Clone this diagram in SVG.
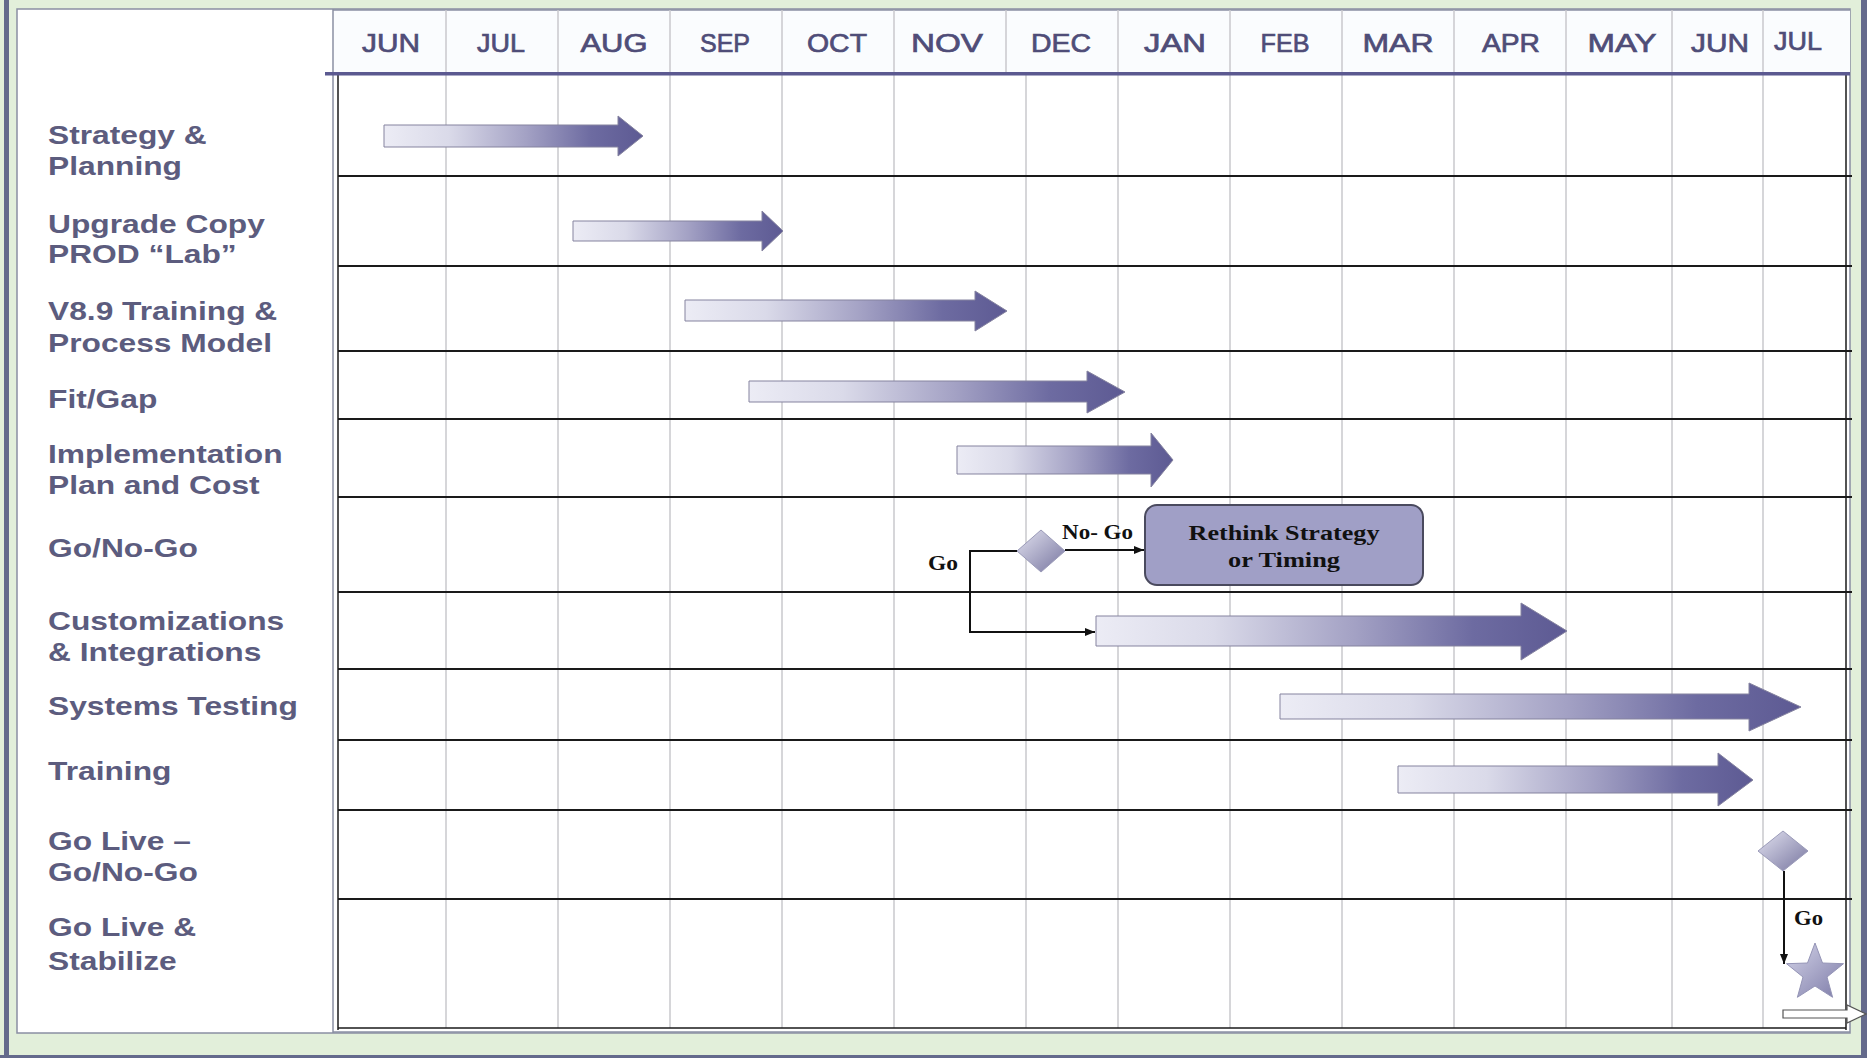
<svg xmlns="http://www.w3.org/2000/svg" width="1867" height="1058" viewBox="0 0 1867 1058">
<style>
.lbl{font-family:"Liberation Sans",Arial,sans-serif;font-weight:bold;font-size:25px;fill:#5c5c7e}
.mon{font-family:"Liberation Sans",Arial,sans-serif;font-weight:normal;font-size:26px;fill:#4f4d78;stroke:#4f4d78;stroke-width:0.7;text-anchor:middle}
.ser{font-family:"Liberation Serif","Times New Roman",serif;font-weight:bold;font-size:20px;fill:#111}
.grid{stroke:#c9c9cc;stroke-width:1.5}
.row{stroke:#1a1a1a;stroke-width:2}
.bar{fill:url(#barGrad);stroke:#85839f;stroke-width:1}
.conn{fill:none;stroke:#111;stroke-width:2}
.dia{fill:url(#diaGrad);stroke:#9a9ab8;stroke-width:1}
</style>
<defs>
<linearGradient id="barGrad" x1="0" y1="0" x2="1" y2="0">
<stop offset="0" stop-color="#ececf5"/>
<stop offset="0.25" stop-color="#dadae9"/>
<stop offset="0.55" stop-color="#a3a1c4"/>
<stop offset="0.8" stop-color="#6d6ba1"/>
<stop offset="1" stop-color="#5d5a93"/>
</linearGradient>
<linearGradient id="diaGrad" x1="0" y1="0" x2="1" y2="1">
<stop offset="0" stop-color="#e2e2f0"/>
<stop offset="1" stop-color="#77759f"/>
</linearGradient>
<linearGradient id="starGrad" x1="0" y1="0" x2="1" y2="1">
<stop offset="0" stop-color="#d4d4e8"/>
<stop offset="1" stop-color="#7d7ba8"/>
</linearGradient>
<marker id="ah" markerWidth="10" markerHeight="8" refX="10" refY="4" orient="auto" markerUnits="userSpaceOnUse">
<path d="M0,0 L10,4 L0,8 z" fill="#111"/>
</marker>
</defs>

<g id="frame">
<rect x="0" y="0" width="1867" height="1058" fill="#e2efda"/>
<rect x="4" y="0" width="5" height="1058" fill="#646a8c"/>
<rect x="1861" y="0" width="6" height="1058" fill="#646a8c"/>
<rect x="0" y="1055" width="1867" height="3" fill="#646a8c"/>
<rect x="17" y="9" width="1833" height="1024" fill="#ffffff" stroke="#8a8fa3" stroke-width="1.5"/>
<rect x="334" y="10" width="1516" height="63" fill="#fafcfe"/>
<line x1="333" y1="10" x2="1850" y2="10" stroke="#8a8fa3" stroke-width="1.5"/>
<line x1="333" y1="9" x2="333" y2="1033" stroke="#8a8fa3" stroke-width="1.5"/>
</g>

<g id="grid">
<g class="grid">
<line x1="446" y1="10" x2="446" y2="1028"/>
<line x1="558" y1="10" x2="558" y2="1028"/>
<line x1="670" y1="10" x2="670" y2="1028"/>
<line x1="782" y1="10" x2="782" y2="1028"/>
<line x1="894" y1="10" x2="894" y2="1028"/>
<line x1="1006" y1="10" x2="1006" y2="73"/>
<line x1="1026" y1="75" x2="1026" y2="1028"/>
<line x1="1118" y1="10" x2="1118" y2="1028"/>
<line x1="1230" y1="10" x2="1230" y2="1028"/>
<line x1="1342" y1="10" x2="1342" y2="1028"/>
<line x1="1454" y1="10" x2="1454" y2="1028"/>
<line x1="1566" y1="10" x2="1566" y2="1028"/>
<line x1="1672" y1="10" x2="1672" y2="1028"/>
<line x1="1763" y1="10" x2="1763" y2="1028"/>
</g>
<line x1="338" y1="75" x2="338" y2="1030" stroke="#1a1a1a" stroke-width="1.5"/>
<line x1="1846" y1="75" x2="1846" y2="1030" stroke="#1a1a1a" stroke-width="1.5"/>
<line x1="338" y1="1028" x2="1846" y2="1028" stroke="#1a1a1a" stroke-width="1.5"/>
<line x1="333" y1="1032" x2="1850" y2="1032" stroke="#8a8fa3" stroke-width="1.5"/>
<g class="row">
<line x1="338" y1="176" x2="1852" y2="176"/>
<line x1="338" y1="266" x2="1852" y2="266"/>
<line x1="338" y1="351" x2="1852" y2="351"/>
<line x1="338" y1="419" x2="1852" y2="419"/>
<line x1="338" y1="497" x2="1852" y2="497"/>
<line x1="338" y1="592" x2="1852" y2="592"/>
<line x1="338" y1="669" x2="1852" y2="669"/>
<line x1="338" y1="740" x2="1852" y2="740"/>
<line x1="338" y1="810" x2="1852" y2="810"/>
<line x1="338" y1="899" x2="1852" y2="899"/>
</g>
<rect x="325" y="72" width="1525" height="3.5" fill="#5b5990"/>
</g>

<g id="months">
<text class="mon" x="391" y="52" textLength="58" lengthAdjust="spacingAndGlyphs">JUN</text>
<text class="mon" x="501" y="52" textLength="48" lengthAdjust="spacingAndGlyphs">JUL</text>
<text class="mon" x="614" y="52" textLength="67" lengthAdjust="spacingAndGlyphs">AUG</text>
<text class="mon" x="725" y="52" textLength="50" lengthAdjust="spacingAndGlyphs">SEP</text>
<text class="mon" x="837" y="52" textLength="60" lengthAdjust="spacingAndGlyphs">OCT</text>
<text class="mon" x="947" y="52" textLength="72" lengthAdjust="spacingAndGlyphs">NOV</text>
<text class="mon" x="1061" y="52" textLength="60" lengthAdjust="spacingAndGlyphs">DEC</text>
<text class="mon" x="1175" y="52" textLength="62" lengthAdjust="spacingAndGlyphs">JAN</text>
<text class="mon" x="1285" y="52" textLength="49" lengthAdjust="spacingAndGlyphs">FEB</text>
<text class="mon" x="1398" y="52" textLength="71" lengthAdjust="spacingAndGlyphs">MAR</text>
<text class="mon" x="1511" y="52" textLength="58" lengthAdjust="spacingAndGlyphs">APR</text>
<text class="mon" x="1622" y="52" textLength="69" lengthAdjust="spacingAndGlyphs">MAY</text>
<text class="mon" x="1720" y="52" textLength="58" lengthAdjust="spacingAndGlyphs">JUN</text>
<text class="mon" x="1798" y="50" textLength="48" lengthAdjust="spacingAndGlyphs">JUL</text>
</g>

<g id="labels" transform="translate(48,0) scale(1.27,1)">
<text class="lbl" x="0" y="144">Strategy &amp;</text>
<text class="lbl" x="0" y="175">Planning</text>
<text class="lbl" x="0" y="233">Upgrade Copy</text>
<text class="lbl" x="0" y="263">PROD “Lab”</text>
<text class="lbl" x="0" y="320">V8.9 Training &amp;</text>
<text class="lbl" x="0" y="352">Process Model</text>
<text class="lbl" x="0" y="408">Fit/Gap</text>
<text class="lbl" x="0" y="463">Implementation</text>
<text class="lbl" x="0" y="494">Plan and Cost</text>
<text class="lbl" x="0" y="557">Go/No-Go</text>
<text class="lbl" x="0" y="630">Customizations</text>
<text class="lbl" x="0" y="661">&amp; Integrations</text>
<text class="lbl" x="0" y="715">Systems Testing</text>
<text class="lbl" x="0" y="780">Training</text>
<text class="lbl" x="0" y="850">Go Live –</text>
<text class="lbl" x="0" y="881">Go/No-Go</text>
<text class="lbl" x="0" y="936">Go Live &amp;</text>
<text class="lbl" x="0" y="970">Stabilize</text>
</g>

<g id="bar-strategy"><polygon class="bar" points="384,125 618,125 618,116 643,136 618,156 618,147 384,147"/></g>
<g id="bar-upgrade"><polygon class="bar" points="573,221 762,221 762,211 783,231 762,251 762,241 573,241"/></g>
<g id="bar-training-model"><polygon class="bar" points="685,300 975,300 975,291 1007,311 975,331 975,321 685,321"/></g>
<g id="bar-fitgap"><polygon class="bar" points="749,381 1087,381 1087,371 1125,392 1087,413 1087,402 749,402"/></g>
<g id="bar-implementation"><polygon class="bar" points="957,446 1151,446 1151,433 1173,460 1151,487 1151,474 957,474"/></g>
<g id="bar-customizations"><polygon class="bar" points="1096,616 1521,616 1521,603 1567,631 1521,660 1521,646 1096,646"/></g>
<g id="bar-systems-testing"><polygon class="bar" points="1280,694 1749,694 1749,683 1801,707 1749,731 1749,719 1280,719"/></g>
<g id="bar-training"><polygon class="bar" points="1398,766 1718,766 1718,753 1753,780 1718,806 1718,793 1398,793"/></g>

<g id="decision-go-nogo"><polygon class="dia" points="1041,530 1065,551 1041,572 1017,551"/></g>

<g id="rethink">
<rect x="1145" y="505" width="278" height="80" rx="12" ry="12" fill="#a09fc6" stroke="#4a4a5e" stroke-width="2"/>
<text class="ser" x="1284" y="540" text-anchor="middle" textLength="191" lengthAdjust="spacingAndGlyphs">Rethink Strategy</text>
<text class="ser" x="1284" y="567" text-anchor="middle" textLength="112" lengthAdjust="spacingAndGlyphs">or Timing</text>
</g>

<g id="decision-go-live"><polygon class="dia" points="1783,831 1808,851 1783,871 1758,851"/></g>

<g id="go-live-star"><polygon points="1815,943 1822.5,963 1843.5,963.7 1827,977 1832.6,997.3 1815,986 1797.4,997.3 1803,977 1786.5,963.7 1807.5,963" fill="url(#starGrad)" stroke="#9494b6" stroke-width="1"/></g>

<g id="connectors">
<path class="conn" d="M1017,551 H970 V632 H1095" marker-end="url(#ah)"/>
<path class="conn" d="M1065,550 H1144" marker-end="url(#ah)"/>
<path class="conn" d="M1784,871 V964" marker-end="url(#ah)"/>
<text class="ser" x="928" y="570" textLength="30" lengthAdjust="spacingAndGlyphs">Go</text>
<text class="ser" x="1062" y="539" textLength="71" lengthAdjust="spacingAndGlyphs">No- Go</text>
<text class="ser" x="1794" y="925" textLength="29" lengthAdjust="spacingAndGlyphs">Go</text>
</g>

<g id="continue-arrow"><polygon points="1783,1010 1847,1010 1847,1005 1866,1014 1847,1023 1847,1018 1783,1018" fill="#ffffff" stroke="#555" stroke-width="1.2"/></g>
</svg>
